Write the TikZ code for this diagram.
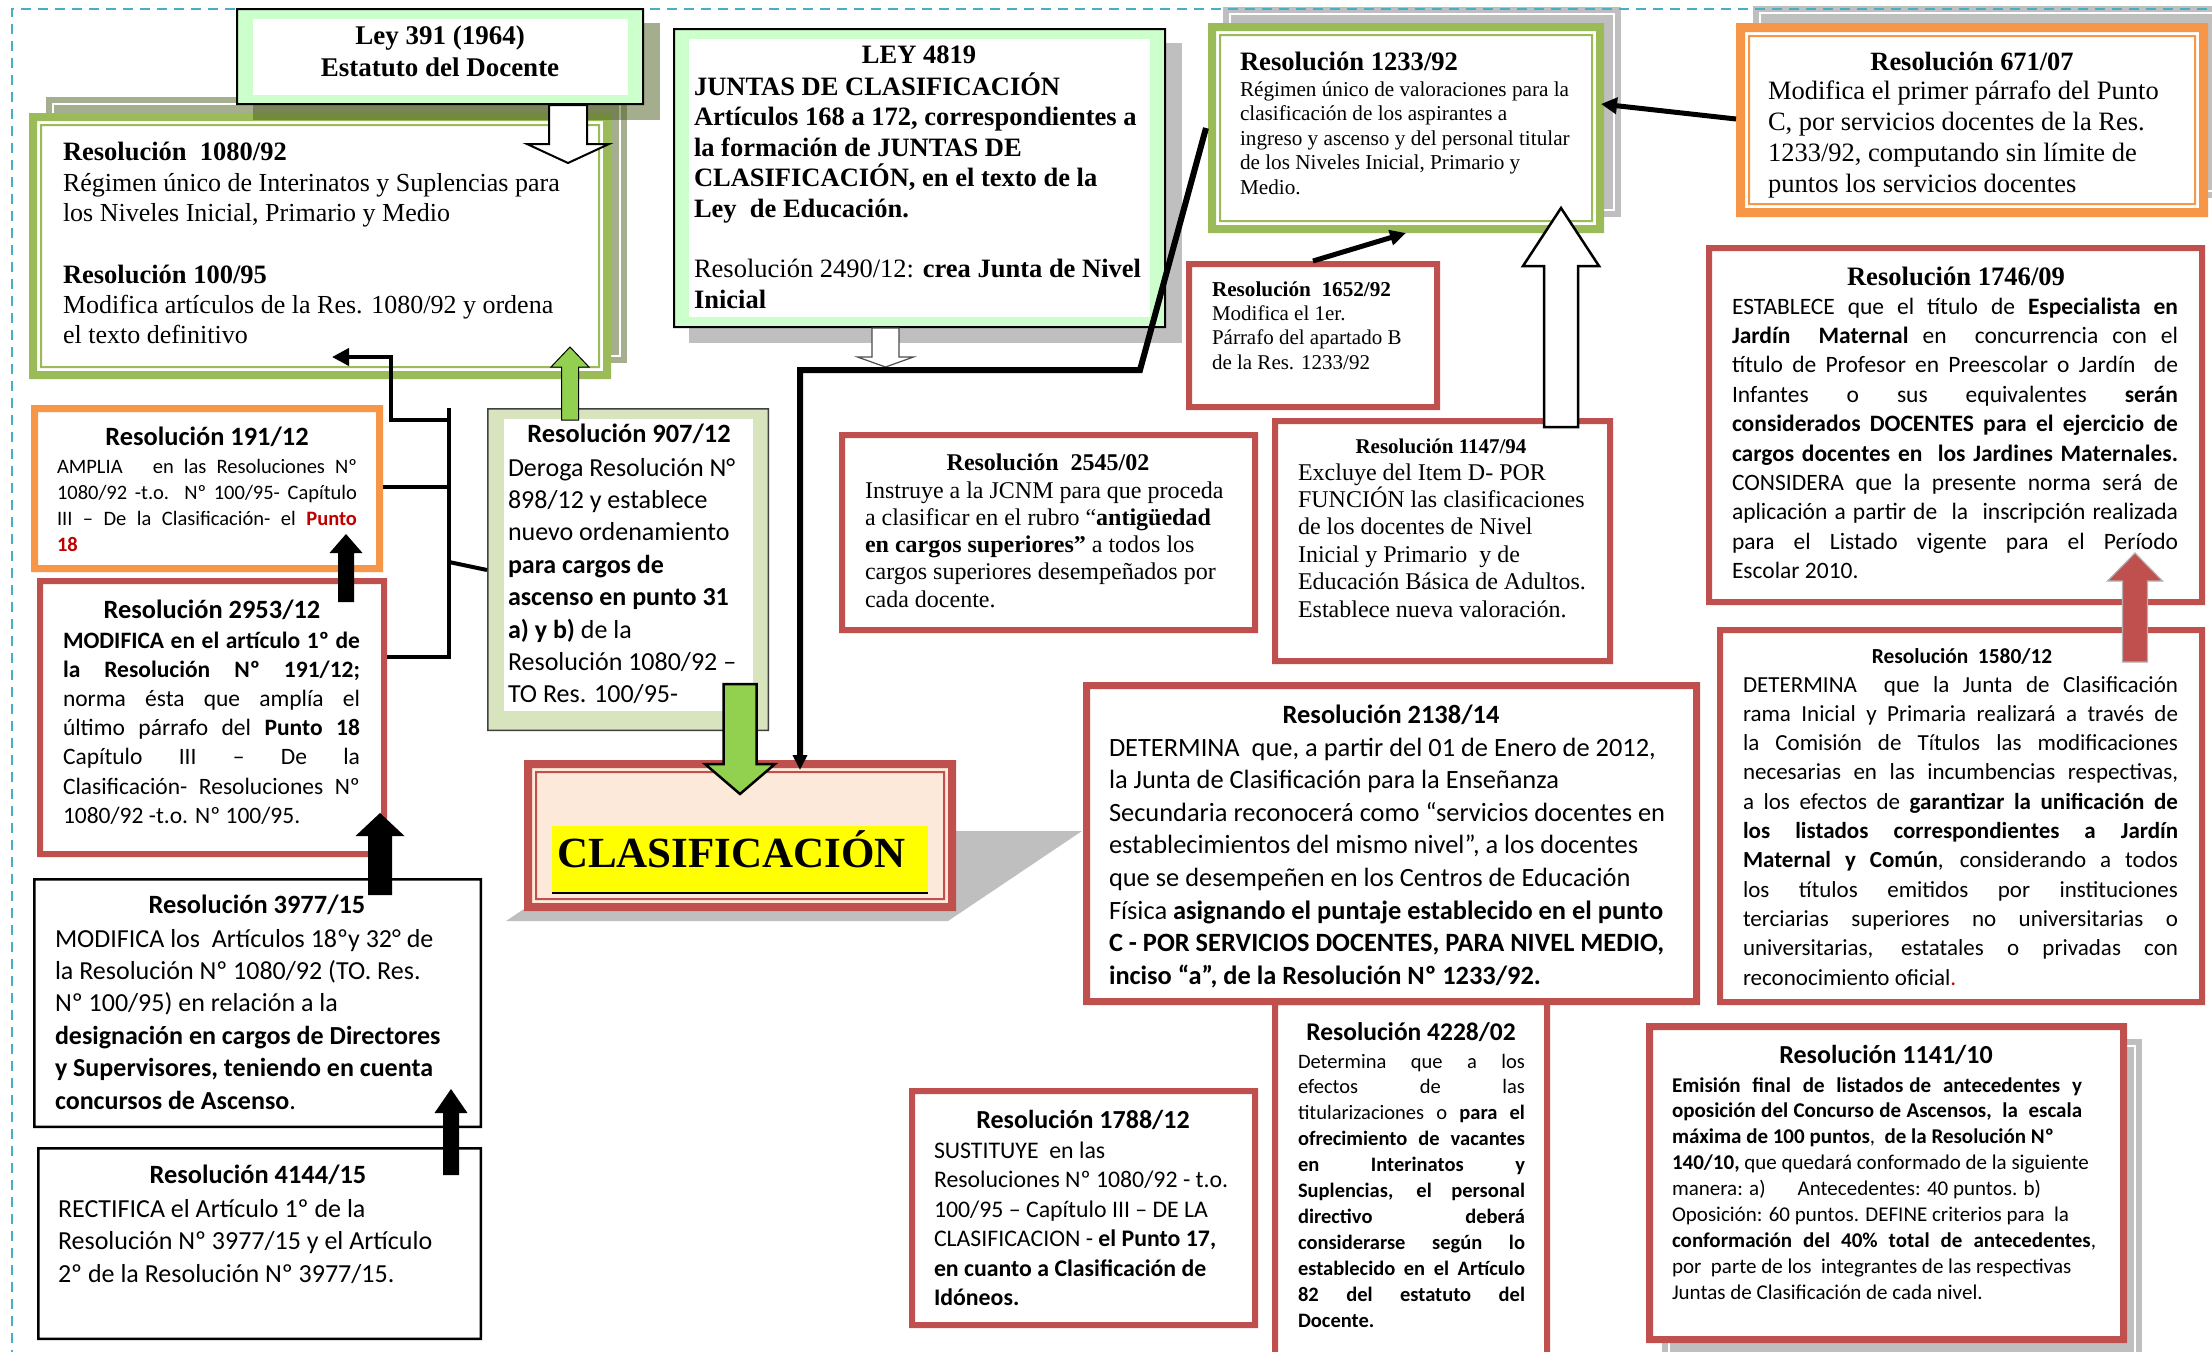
\documentclass[tikz,border=0pt]{standalone}
\usepackage{fontspec}
\setmainfont{Liberation Serif}
\newfontfamily\calf{Carlito}
\usetikzlibrary{arrows.meta,fit}
\definecolor{gband}{HTML}{9BBB59}
\definecolor{lgreen}{HTML}{CCFFCC}
\definecolor{gsev}{HTML}{D7E4BD}
\definecolor{oran}{HTML}{F79646}
\definecolor{bred}{HTML}{C0504D}
\definecolor{peach}{HTML}{FCE9DA}
\definecolor{shgray}{HTML}{BFBFBF}
\definecolor{olsh}{HTML}{A5AE8F}
\definecolor{olshd}{HTML}{4B5D1F}
\definecolor{dashblue}{HTML}{4BACC6}
\definecolor{agreen}{HTML}{92D050}
\definecolor{pred}{HTML}{C00000}
\definecolor{yel}{HTML}{FFFF00}
\newcommand\fsz[2]{\fontsize{#1pt}{#2pt}\selectfont}
\newlength\jw
\newcommand\jline[1]{\makebox[\jw][s]{#1}}
\newcommand\frring[7]{\fill[#7,even odd rule] ({#1+#5},{#2+#5}) rectangle ({#3-#5},{#4-#5}) ({#1+#5+#6},{#2+#5+#6}) rectangle ({#3-#5-#6},{#4-#5-#6});}
\newcommand\rbox[8]{\fill[#8] (#2,#3) rectangle (#4,#5);
  \frring{#2}{#3}{#4}{#5}{0}{#6}{#7}
  \node[fit={(#2,#3) (#4,#5)}] (#1) {};}
\newcommand\blockarrow[7]{\path[#7] (#1,#2) -- ({#1+#6},#3) -- ({#1+#5},#3) -- ({#1+#5},#4) -- ({#1-#5},#4) -- ({#1-#5},#3) -- ({#1-#6},#3) -- cycle;}
\newcommand\tblock[5]{\node[anchor=base west] (#1) at (#2,#3) {\parbox[t]{#4}{#5}};}
\tikzset{
  conn/.style={line width=2.5pt, draw=black},
  brk/.style={line width=2pt, draw=black},
}
\begin{document}
\begin{tikzpicture}[x=0.5pt,y=-0.5pt,every node/.style={inner sep=0pt,outer sep=0pt}]
\useasboundingbox (0,0) rectangle (2212,1351);
\fill[white] (0,0) rectangle (2212,1351);
% ---------- shadows
\fill[olsh] (46,97) rectangle (627,363);
\draw[white,line width=0.75pt] (53,104) rectangle (620,356);
\fill[shgray] (689,43) rectangle (1182,343);
\fill[shgray] (1223,7) rectangle (1621,217);
\draw[white,line width=0.75pt] (1230,14) rectangle (1614,210);
\fill[shgray] (1753,6) rectangle (2230,198);
\draw[white,line width=0.75pt] (1760,13) rectangle (2223,191);
\fill[shgray] (1662,1039) rectangle (2142,1380);
\draw[white,line width=0.75pt] (1669,1046) rectangle (2135,1373);
\fill[shgray] (506,921) -- (948,921) -- (1082,831) -- (640,831) -- cycle;
% ---------- dashed frame
\draw[dashblue,line width=1.2pt,dash pattern=on 5pt off 3.5pt] (12,1360) -- (12,9) -- (2220,9);
% ---------- 1080/92
\rbox{b1080}{29}{113}{611}{379}{8}{gband}{white}
\frring{29}{113}{611}{379}{11}{2}{gband}
\node[anchor=base west] (h1080) at (63,160) {\bfseries\fsz{13.25}{15}Resolución~ 1080/92};
\tblock{x1080}{63}{191}{300pt}{\fsz{13}{15}Régimen único de Interinatos y Suplencias para\\los Niveles Inicial, Primario y Medio}
\node[anchor=base west] (h100) at (63,283) {\bfseries\fsz{13.25}{15}Resolución 100/95};
\tblock{x100}{63}{313}{300pt}{\fsz{13}{15}Modifica artículos de la Res. 1080/92 y ordena\\el texto definitivo}
% ---------- Ley 391
\fill[olshd,opacity=0.5] (253,23) rectangle (660,120);
\rbox{b391}{236}{8}{644}{105}{2}{black}{lgreen}
\fill[white] (253,19) rectangle (628,95);
\node[anchor=base] (h391a) at (440,44) {\bfseries\fsz{13.5}{15}Ley 391 (1964)};
\node[anchor=base] (h391b) at (440,76) {\bfseries\fsz{13.5}{15}Estatuto del Docente};
% ---------- LEY 4819
\rbox{b4819}{673}{28}{1166}{328}{2}{black}{lgreen}
\fill[white] (689,39) rectangle (1150,317);
\node[anchor=base] (h4819) at (919,63) {\bfseries\fsz{13.25}{15}LEY 4819};
\tblock{x4819}{694}{95}{300pt}{\bfseries\fsz{13.25}{15.25}JUNTAS DE CLASIFICACIÓN\\Artículos 168 a 172, correspondientes a\\la formación de JUNTAS DE\\CLASIFICACIÓN, en el texto de la\\Ley~ de Educación.}
\tblock{x2490}{694}{277}{300pt}{\fsz{13.25}{15.5}Resolución 2490/12: \textbf{crea Junta de Nivel}\\\textbf{Inicial}}
% ---------- 1233/92
\rbox{b1233}{1208}{23}{1604}{233}{8}{gband}{white}
\frring{1208}{23}{1604}{233}{11}{2}{gband}
\node[anchor=base west] (h1233) at (1240,70) {\bfseries\fsz{13.3}{15}Resolución 1233/92};
\tblock{x1233}{1240}{96}{220pt}{\fsz{10.6}{12.25}Régimen único de valoraciones para la\\clasificación de los aspirantes a\\ingreso y ascenso y del personal titular\\de los Niveles Inicial, Primario y\\Medio.}
% ---------- 671/07
\rbox{b671}{1736}{23}{2208}{217}{9}{oran}{white}
\frring{1736}{23}{2208}{217}{12}{2}{oran}
\node[anchor=base] (h671) at (1972,70) {\bfseries\fsz{13.2}{15}Resolución 671/07};
\tblock{x671}{1768}{99}{240pt}{\fsz{13.25}{15.5}Modifica el primer párrafo del Punto\\C, por servicios docentes de la Res.\\1233/92, computando sin límite de\\puntos los servicios docentes}
% ---------- 1652/92
\rbox{b1652}{1186}{261}{1440}{410}{6}{bred}{white}
\node[anchor=base west] (h1652) at (1212,296) {\bfseries\fsz{10.6}{12}Resolución~ 1652/92};
\tblock{x1652}{1212}{320}{150pt}{\fsz{10.5}{12.25}Modifica el 1er.\\Párrafo del apartado B\\de la Res. 1233/92}
% ---------- 1147/94
\rbox{b1147}{1272}{418}{1613}{664}{6}{bred}{white}
\node[anchor=base] (h1147) at (1441,453) {\bfseries\fsz{10.5}{12}Resolución 1147/94};
\tblock{x1147}{1298}{480}{180pt}{\fsz{12}{13.7}Excluye del Item D- POR\\FUNCIÓN las clasificaciones\\de los docentes de Nivel\\Inicial y Primario~ y de\\Educación Básica de Adultos.\\Establece nueva valoración.}
% ---------- 2545/02
\rbox{b2545}{839}{432}{1258}{633}{6}{bred}{white}
\node[anchor=base] (h2545) at (1048,470) {\bfseries\fsz{12}{13}Resolución~ 2545/02};
\tblock{x2545}{865}{498}{210pt}{\fsz{12}{13.65}Instruye a la JCNM para que proceda\\a clasificar en el rubro “\textbf{antigüedad}\\\textbf{en cargos superiores”} a todos los\\cargos superiores desempeñados por\\cada docente.}
% ---------- 1746/09
\rbox{b1746}{1706}{245}{2205}{605}{6}{bred}{white}
\node[anchor=base] (h1746) at (1956,285) {\bfseries\fsz{13.3}{15}Resolución 1746/09};
\tblock{x1746}{1732}{314}{240pt}{\calf\fsz{11.75}{14.7}\setlength\jw{223pt}%
\jline{ESTABLECE que el título de \textbf{Especialista en}}\\
\jline{\textbf{Jardín~ Maternal} en~ concurrencia con el}\\
\jline{título de Profesor en Preescolar o Jardín~ de}\\
\jline{Infantes o sus equivalentes \textbf{serán}}\\
\jline{\textbf{considerados DOCENTES para el ejercicio de}}\\
\jline{\textbf{cargos docentes en~ los Jardines Maternales.}}\\
\jline{CONSIDERA que la presente norma será de}\\
\jline{aplicación a partir de~ la~ inscripción realizada}\\
\jline{para el Listado vigente para el Período}\\
Escolar 2010.}
% ---------- 1580/12
\rbox{b1580}{1717}{627}{2205}{1005}{6}{bred}{white}
\node[anchor=base] (h1580) at (1962,663) {\calf\bfseries\fsz{10.7}{12}Resolución~ 1580/12};
\tblock{x1580}{1743}{692}{235pt}{\calf\fsz{11.5}{14.65}\setlength\jw{217.5pt}%
\jline{DETERMINA~ que la Junta de Clasificación}\\
\jline{rama Inicial y Primaria realizará a través de}\\
\jline{la Comisión de Títulos las modificaciones}\\
\jline{necesarias en las incumbencias respectivas,}\\
\jline{a los efectos de \textbf{garantizar la unificación de}}\\
\jline{\textbf{los listados correspondientes a Jardín}}\\
\jline{\textbf{Maternal y Común}, considerando a todos}\\
\jline{los títulos emitidos por instituciones}\\
\jline{terciarias superiores no universitarias o}\\
\jline{universitarias, estatales o privadas con}\\
reconocimiento oficial{\color{pred}.}}
% ---------- 191/12
\rbox{b191}{31}{405}{383}{572}{7}{oran}{white}
\node[anchor=base] (h191) at (207,445) {\calf\bfseries\fsz{13.2}{15}Resolución 191/12};
\tblock{x191}{57}{473}{170pt}{\calf\fsz{10.25}{13}\setlength\jw{150pt}%
\jline{AMPLIA~~ en las Resoluciones Nº}\\
\jline{1080/92 -t.o. Nº 100/95- Capítulo}\\
\jline{III – De la Clasificación- el \textbf{\color{pred}Punto}}\\
\textbf{\color{pred}18}}
% ---------- 2953/12
\rbox{b2953}{37}{578}{387}{857}{6}{bred}{white}
\node[anchor=base] (h2953) at (212,618) {\calf\bfseries\fsz{13.2}{15}Resolución 2953/12};
\tblock{x2953}{63}{648}{170pt}{\calf\fsz{11.75}{14.6}\setlength\jw{148.5pt}%
\jline{\textbf{MODIFICA en el artículo 1º de}}\\
\jline{\textbf{la Resolución Nº 191/12;}}\\
\jline{norma ésta que amplía el}\\
\jline{último párrafo del \textbf{Punto 18}}\\
\jline{Capítulo III – De la}\\
\jline{Clasificación- Resoluciones Nº}\\
1080/92 -t.o. Nº 100/95.}
% ---------- 3977/15
\rbox{b3977}{33}{878}{482}{1128}{2.5}{black}{white}
\node[anchor=base] (h3977) at (257,913) {\calf\bfseries\fsz{13.2}{15}Resolución 3977/15};
\tblock{x3977}{55}{947}{230pt}{\calf\fsz{13}{16.2}MODIFICA los~ Artículos 18ºy 32° de\\la Resolución Nº 1080/92 (TO. Res.\\Nº 100/95) en relación a la\\\textbf{designación en cargos de Directores}\\\textbf{y Supervisores, teniendo en cuenta}\\\textbf{concursos de Ascenso}.}
% ---------- 4144/15
\rbox{b4144}{37}{1147}{482}{1340}{2.5}{black}{white}
\node[anchor=base] (h4144) at (258,1183) {\calf\bfseries\fsz{13.2}{15}Resolución 4144/15};
\tblock{x4144}{58}{1217}{230pt}{\calf\fsz{13}{16.25}RECTIFICA el Artículo 1º de la\\Resolución Nº 3977/15 y el Artículo\\2º de la Resolución Nº 3977/15.}
% ---------- 907/12
\rbox{b907}{487}{408}{769}{731}{1.5}{black!75}{gsev}
\fill[white] (504,419) rectangle (753,711);
\node[anchor=base] (h907) at (629,442) {\calf\bfseries\fsz{13.2}{15}Resolución 907/12};
\tblock{x907}{508}{476}{170pt}{\calf\fsz{13}{16.2}Deroga Resolución N°\\898/12 y establece\\nuevo ordenamiento\\\textbf{para cargos de}\\\textbf{ascenso en punto 31}\\\textbf{a) y b)} de la\\Resolución 1080/92 –\\TO Res. 100/95-}
% ---------- CLASIFICACION
\rbox{bclas}{524}{760}{956}{911}{8}{bred}{peach}
\frring{524}{760}{956}{911}{11}{2}{bred}
\fill[yel] (552,826) rectangle (928,893);
\draw[line width=1pt] (552,893) -- (928,893);
\node[anchor=base west] (hclas) at (557,867) {\bfseries\fsz{21.5}{24}CLASIFICACIÓN};
% ---------- 4228/02
\rbox{b4228}{1272}{999}{1550}{1370}{6}{bred}{white}
\node[anchor=base] (h4228) at (1411,1040) {\calf\bfseries\fsz{12.75}{14}Resolución 4228/02};
\tblock{x4228}{1298}{1068}{130pt}{\calf\fsz{10.25}{12.95}\setlength\jw{113.5pt}%
\jline{Determina que a los}\\
\jline{efectos de las}\\
\jline{titularizaciones o \textbf{para el}}\\
\jline{\textbf{ofrecimiento de vacantes}}\\
\jline{\textbf{en Interinatos y}}\\
\jline{\textbf{Suplencias, el personal}}\\
\jline{\textbf{directivo deberá}}\\
\jline{\textbf{considerarse según lo}}\\
\jline{\textbf{establecido en el Artículo}}\\
\jline{\textbf{82 del estatuto del}}\\
\textbf{Docente.}}
% ---------- 2138/14
\rbox{b2138}{1083}{682}{1700}{1005}{7}{bred}{white}
\node[anchor=base] (h2138) at (1391,723) {\calf\bfseries\fsz{13.2}{15}Resolución 2138/14};
\tblock{x2138}{1109}{756}{310pt}{\calf\fsz{13.2}{16.3}DETERMINA~ que, a partir del 01 de Enero de 2012,\\la Junta de Clasificación para la Enseñanza\\Secundaria reconocerá como “servicios docentes en\\establecimientos del mismo nivel”, a los docentes\\que se desempeñen en los Centros de Educación\\Física \textbf{asignando el puntaje establecido en el punto}\\\textbf{C - POR SERVICIOS DOCENTES, PARA NIVEL MEDIO,}\\\textbf{inciso “a”, de la Resolución Nº 1233/92.}}
% ---------- 1788/12
\rbox{b1788}{909}{1088}{1258}{1328}{6}{bred}{white}
\node[anchor=base] (h1788) at (1083,1128) {\calf\bfseries\fsz{13}{15}Resolución 1788/12};
\tblock{x1788}{934}{1158}{190pt}{\calf\fsz{11.9}{14.75}SUSTITUYE~ en las\\Resoluciones Nº 1080/92 - t.o.\\100/95 – Capítulo III – DE LA\\CLASIFICACION - \textbf{el Punto 17,}\\\textbf{en cuanto a Clasificación de}\\\textbf{Idóneos.}}
% ---------- 1141/10
\rbox{b1141}{1646}{1023}{2127}{1343}{7}{bred}{white}
\node[anchor=base] (h1141) at (1886,1063) {\calf\bfseries\fsz{13}{15}Resolución 1141/10};
\tblock{x1141}{1672}{1092}{230pt}{\calf\fsz{10.5}{12.95}\setlength\jw{205pt}%
\jline{\textbf{Emisión~ final~ de~ listados de~ antecedentes~ y}}\\
\jline{\textbf{oposición del Concurso de Ascensos,~ la~ escala}}\\
\textbf{máxima de 100 puntos},~ \textbf{de la Resolución Nº}\\
\textbf{140/10,} que quedará conformado de la siguiente\\
manera: a)\hspace{16pt}Antecedentes: 40 puntos. b)\\
Oposición: 60 puntos. DEFINE criterios para~ la\\
\setlength\jw{212pt}\jline{\textbf{conformación~ del~ 40\%~ total~ de~ antecedentes},}\\
por~ parte de los~ integrantes de las respectivas\\
Juntas de Clasificación de cada nivel.}
% ---------- block arrows
\blockarrow{568}{163}{144}{105}{19}{41}{draw=black,fill=white,line width=1pt}
\blockarrow{885.5}{367}{357}{328}{13.5}{28}{draw=black!70,fill=white,line width=0.6pt}
\blockarrow{570}{347}{367}{420}{8.5}{19}{draw=black,fill=agreen,line width=0.5pt}
\blockarrow{740}{794}{764}{684}{16.5}{35}{draw=black,fill=agreen,line width=1.25pt}
\blockarrow{346}{534}{553}{602}{8}{16.5}{fill=black}
\blockarrow{380}{813}{836}{895}{12}{24.5}{fill=black}
\blockarrow{451}{1089}{1113}{1175}{8}{16.5}{fill=black}
\blockarrow{1561}{208}{266}{427}{17}{38}{draw=black,fill=white,line width=1.25pt}
\blockarrow{2135}{553}{581}{662}{12.5}{27.5}{draw=black!30,fill=bred,line width=0.6pt}
% ---------- bracket connectors
\coordinate (brT) at (449,408);
\coordinate (brB) at (449,659);
\coordinate (brE) at (449,420);
\coordinate (br191) at (449,487);
\coordinate (br2953) at (449,657);
\coordinate (br907) at (449,562);
\coordinate (k907) at (487,570);
\coordinate (e1080) at (332,357);
\draw[brk] (brT) -- (brB);
\draw[brk] (b191.east |- br191) -- (br191);
\draw[brk] (b2953.east |- br2953) -- (br2953);
\draw[brk] (br907) -- (k907);
\draw[brk,-{Triangle[length=8.5pt,width=8.5pt]}] (brE) -- (391,420) -- (391,357) -- (e1080);
% ---------- other connectors
\coordinate (s671) at (1736,119);
\coordinate (e1233a) at (1601,104);
\draw[conn,-{Triangle[length=8pt,width=8pt]}] (s671) -- (e1233a);
\coordinate (s1652) at (1313,261);
\coordinate (e1233b) at (1406,233);
\draw[conn,-{Triangle[length=8pt,width=7.5pt]}] (s1652) -- (e1233b);
\coordinate (s1233) at (1206,128);
\coordinate (k1) at (1140,370);
\coordinate (k2) at (800,370);
\coordinate (eclas) at (800,770);
\draw[line width=3pt,-{Triangle[length=7.5pt,width=7pt]}] (s1233) -- (k1) -- (k2) -- (eclas);
\end{tikzpicture}
\end{document}
